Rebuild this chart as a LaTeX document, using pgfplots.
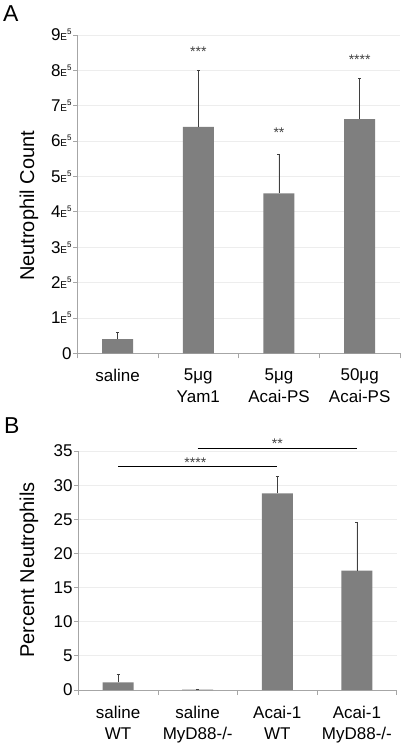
\documentclass[border=0pt]{standalone}
\usepackage{fontspec}
\setmainfont{Liberation Sans}
\usepackage{pgfplots}
\pgfplotsset{compat=1.18}
\definecolor{barc}{HTML}{7F7F7F}
\definecolor{errc}{HTML}{3F3F3F}
\definecolor{axc}{HTML}{A6A6A6}
\definecolor{gridc}{HTML}{EDEDED}
\newcommand{\Ef}[1]{#1{\fontsize{10}{10}\selectfont E}\raisebox{6pt}{\fontsize{8}{8}\selectfont 5}}
\pgfplotsset{mystyle/.style={
  scale only axis, xmin=-0.5, xmax=3.5, ymin=0,
  axis x line*=bottom, axis y line*=left,
  axis line style={draw=axc, line width=0.8pt},
  ymajorgrids, grid style={draw=gridc, line width=0.8pt},
  tick align=outside,
  xtick={0,1,2,3},
  minor xtick={-0.5,0.5,1.5,2.5,3.5},
  major tick length=4pt, minor tick length=5pt,
  tick style={draw=axc, line width=0.8pt},
  major x tick style={draw=none},
  ybar, bar width=31pt,
  clip=false,
  scaled y ticks=false,
  /pgf/number format/assume math mode=true,
  yticklabel style={font=\fontsize{17}{20}\selectfont, inner sep=1.5pt},
  xticklabel style={font=\fontsize{17}{22}\selectfont, align=center, anchor=north, inner sep=0pt, yshift=-11.5pt},
  ylabel style={font=\fontsize{20}{24}\selectfont, anchor=center},
}}
\tikzset{stars/.style={font=\fontsize{14}{14}\selectfont, text=black!75, inner sep=0pt, anchor=center, yshift=-3pt}}
\begin{document}
\begin{tikzpicture}
\path[use as bounding box] (0pt,0pt) rectangle (407pt,-747pt);
\node[anchor=base west, inner sep=0pt, font=\fontsize{23}{23}\selectfont] at (3pt,-21.7pt) {A};
\node[anchor=base west, inner sep=0pt, font=\fontsize{23}{23}\selectfont] at (4pt,-433pt) {B};
\begin{axis}[mystyle,
  at={(77.3pt,-353.3pt)}, anchor=south west,
  width=322.7pt, height=318.3pt,
  ymax=900000,
  ytick={0,100000,200000,300000,400000,500000,600000,700000,800000,900000},
  yticklabels={0,\Ef{1},\Ef{2},\Ef{3},\Ef{4},\Ef{5},\Ef{6},\Ef{7},\Ef{8},\Ef{9}},
  xticklabels={saline,{5μg\\Yam1},{5μg\\Acai-PS},{50μg\\Acai-PS}},
  ylabel={Neutrophil Count},
  ylabel style={at={(axis description cs:-0.150,0.463)}},
]
\addplot[fill=barc, draw=none,
  error bars/.cd, y dir=plus, y explicit,
  error bar style={draw=errc, line width=0.8pt},
  error mark options={rotate=90, mark size=1.5pt, draw=errc, line width=1pt}]
  coordinates {(0,40000) +- (0,19000) (1,640000) +- (0,161000) (2,452000) +- (0,111000) (3,662000) +- (0,116000)};
\node[stars] at (axis cs:1,862000) {***};
\node[stars] at (axis cs:2,631000) {**};
\node[stars] at (axis cs:3,838000) {****};
\end{axis}
\begin{axis}[mystyle,
  at={(78.3pt,-690pt)}, anchor=south west,
  width=318.4pt, height=239pt,
  ymax=35, ytick={0,5,...,35},
  xticklabels={{saline\\WT},{saline\\MyD88-/-},{Acai-1\\WT},{Acai-1\\MyD88-/-}},
  xticklabel style={font=\fontsize{17}{21.5}\selectfont},
  ylabel={Percent Neutrophils},
  ylabel style={at={(axis description cs:-0.155,0.502)}},
]
\addplot[fill=barc, draw=none,
  error bars/.cd, y dir=plus, y explicit,
  error bar style={draw=errc, line width=0.8pt},
  error mark options={rotate=90, mark size=1.5pt, draw=errc, line width=1pt}]
  coordinates {(0,1.13) +- (0,1.21) (1,0.05) +- (0,0.05) (2,28.8) +- (0,2.4) (3,17.5) +- (0,7.1)};
\draw[black, line width=0.8pt] (axis cs:0,32.8) -- (axis cs:2,32.8);
\draw[black, line width=0.8pt] (axis cs:1,35.4) -- (axis cs:3,35.4);
\node[stars] at (axis cs:0.97,33.8) {****};
\node[stars] at (axis cs:2,36.5) {**};
\end{axis}
\end{tikzpicture}
\end{document}
